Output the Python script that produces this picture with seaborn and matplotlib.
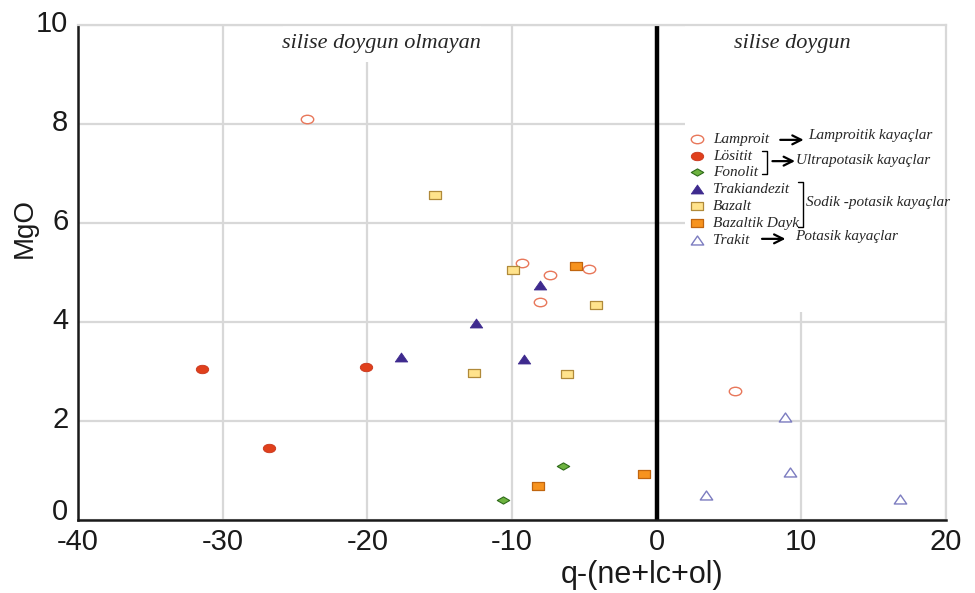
import numpy as np
import pandas as pd
import matplotlib
matplotlib.use("Agg")
import matplotlib.pyplot as plt
import matplotlib.transforms as mtransforms
import seaborn as sns
from matplotlib.path import Path
from matplotlib.markers import MarkerStyle
from matplotlib.patches import Rectangle
from matplotlib.font_manager import FontProperties

# ---------------- data ----------------
lamproit_x = [-24.2, -9.3, -7.4, -4.7, -8.1, 5.4]
lamproit_y = [8.1, 5.2, 4.95, 5.08, 4.4, 2.6]
lositit_x = [-31.4, -20.1, -26.8]
lositit_y = [3.05, 3.1, 1.45]
fonolit_x = [-10.6, -6.5]
fonolit_y = [0.4, 1.1]
trakiandezit_x = [-17.7, -12.5, -8.1, -9.2]
trakiandezit_y = [3.3, 3.97, 4.75, 3.26]
bazalt_x = [-15.3, -9.9, -4.2, -12.6, -6.2]
bazalt_y = [6.56, 5.05, 4.35, 2.97, 2.94]
dayk_x = [-8.2, -0.9, -5.6]
dayk_y = [0.68, 0.93, 5.14]
trakit_x = [8.9, 9.2, 3.4, 16.8]
trakit_y = [2.09, 0.97, 0.5, 0.43]

x_ticks = [-40, -30, -20, -10, 0, 10, 20]
y_ticks = [0, 2, 4, 6, 8, 10]
region_labels = ["silise doygun olmayan", "silise doygun"]
group_notes = ["Lamproitik kayaçlar", "Ultrapotasik kayaçlar",
               "Sodik -potasik kayaçlar", "Potasik kayaçlar"]

# ---------------- style ----------------
sns.set_theme(style="white")
plt.rcParams['font.family'] = ['Liberation Sans', 'DejaVu Sans']

def path_marker(verts):
    v = np.asarray(verts + [verts[0]], dtype=float)
    codes = [Path.MOVETO] + [Path.LINETO] * (len(verts) - 1) + [Path.CLOSEPOLY]
    return MarkerStyle(Path(v, codes))

circ = Path.unit_circle()
ellipse = MarkerStyle(Path(circ.vertices * np.array([1.0, 0.68]), circ.codes))
rect = path_marker([(-1, -0.62), (1, -0.62), (1, 0.62), (-1, 0.62)])
tri = path_marker([(0, 0.72), (-1, -0.72), (1, -0.72)])
diamond = path_marker([(-1, 0), (0, 0.58), (1, 0), (0, -0.58)])

fig = plt.figure(figsize=(9.75, 5.93), dpi=100)
ax = fig.add_axes([0.08, 0.1231, 0.8903, 0.8347])

S = 80
groups = [
    ("Lamproit", lamproit_x, lamproit_y, ellipse, "white", "#E8775A", 1.0),
    ("Lösitit", lositit_x, lositit_y, ellipse, "#E0401C", "#C8341A", 0.6),
    ("Fonolit", fonolit_x, fonolit_y, diamond, "#6DB33F", "#2E6A1A", 0.8),
    ("Trakiandezit", trakiandezit_x, trakiandezit_y, tri, "#3E2A8E", "#3E2A8E", 0.6),
    ("Bazalt", bazalt_x, bazalt_y, rect, "#FFE38C", "#B08A3A", 0.9),
    ("Bazaltik Dayk", dayk_x, dayk_y, rect, "#F7931E", "#C0650F", 0.9),
    ("Trakit", trakit_x, trakit_y, tri, "white", "#7C7CC0", 1.0),
]
for name, gx, gy, mk, fc, ec, lw in groups:
    df = pd.DataFrame({"x": gx, "y": gy})
    sns.scatterplot(data=df, x="x", y="y", ax=ax, marker=mk, s=S,
                    facecolor=fc, edgecolor=ec, linewidth=lw,
                    label=name, zorder=4)

ax.set_xlim(-40, 20)
ax.set_ylim(0, 10)
ax.set_xticks(x_ticks)
ax.set_yticks(y_ticks)
ax.set_xticklabels([str(t) for t in x_ticks])
ax.set_yticklabels([str(t) for t in y_ticks])
ax.tick_params(axis='both', length=0, labelsize=21, colors='#1a1a1a')
ax.tick_params(axis='x', pad=6)
ax.tick_params(axis='y', pad=7)
# y tick labels sit slightly above their gridlines in the original
ylabels = ax.get_yticklabels()
for i, lbl in enumerate(ylabels):
    shift = 8 if i == 0 else 3
    up = mtransforms.ScaledTranslation(0, shift / 72, fig.dpi_scale_trans)
    lbl.set_transform(lbl.get_transform() + up)

ax.set_axisbelow(True)
ax.grid(True, color='#D8D8D8', lw=1.6)
for s in ['left', 'bottom']:
    ax.spines[s].set_color('#1a1a1a')
    ax.spines[s].set_linewidth(1.8)
for s in ['top', 'right']:
    ax.spines[s].set_color('#D8D8D8')
    ax.spines[s].set_linewidth(1.6)

ax.axvline(0, color='black', lw=3.2, zorder=2)

# white patches hiding parts of the grid (as in original)
ax.add_patch(Rectangle((0.699, 0.42), 0.301, 0.58, transform=ax.transAxes,
                       facecolor='white', edgecolor='none', zorder=1))
ax.add_patch(Rectangle((0.236, 0.925), 0.228, 0.075, transform=ax.transAxes,
                       facecolor='white', edgecolor='none', zorder=1))

ax.set_xlabel("q-(ne+lc+ol)", fontsize=22, color='#1a1a1a')
ax.set_ylabel("MgO", fontsize=20, color='#1a1a1a')
ax.xaxis.set_label_coords(0.650, -0.111)
ax.xaxis.label.set_va('center')
ax.yaxis.set_label_coords(-0.061, 0.59)
ax.yaxis.label.set_va('center')

serif_it = dict(family=['Liberation Serif', 'DejaVu Serif'], style='italic')
ax.text(-19.0, 9.62, region_labels[0], fontsize=16, ha='center', va='center', **serif_it)
ax.text(9.4, 9.62, region_labels[1], fontsize=16, ha='center', va='center', **serif_it)

# legend
lp = FontProperties(family=['Liberation Serif', 'DejaVu Serif'], style='italic', size=11)
leg = ax.legend(loc='upper left', bbox_to_anchor=(0.704, 0.784), frameon=False,
                prop=lp, handlelength=1.0, handletextpad=0.55, labelspacing=0.21,
                borderpad=0, borderaxespad=0, scatterpoints=1)
leg.set_zorder(5)

def arrow(x0, x1, y):
    ax.annotate('', xy=(x1, y), xytext=(x0, y), xycoords='axes fraction',
                textcoords='axes fraction',
                arrowprops=dict(arrowstyle='->', lw=1.6, color='black',
                                mutation_scale=16, shrinkA=0, shrinkB=0), zorder=6)

def bracket(x, y0, y1, w=0.006):
    ax.plot([x - w, x, x, x - w], [y0, y0, y1, y1], transform=ax.transAxes,
            color='black', lw=1.0, clip_on=False, zorder=6)

tk = dict(transform=ax.transAxes, fontsize=11, va='center', ha='left', zorder=6, **serif_it)
arrow(0.809, 0.836, 0.768)
ax.text(0.841, 0.776, group_notes[0], **tk)
bracket(0.794, 0.745, 0.699)
arrow(0.800, 0.826, 0.725)
ax.text(0.827, 0.727, group_notes[1], **tk)
bracket(0.835, 0.683, 0.592)
ax.text(0.839, 0.642, group_notes[2], **tk)
arrow(0.788, 0.815, 0.568)
ax.text(0.826, 0.572, group_notes[3], **tk)

fig.savefig('out.png', dpi=100, facecolor='white')
